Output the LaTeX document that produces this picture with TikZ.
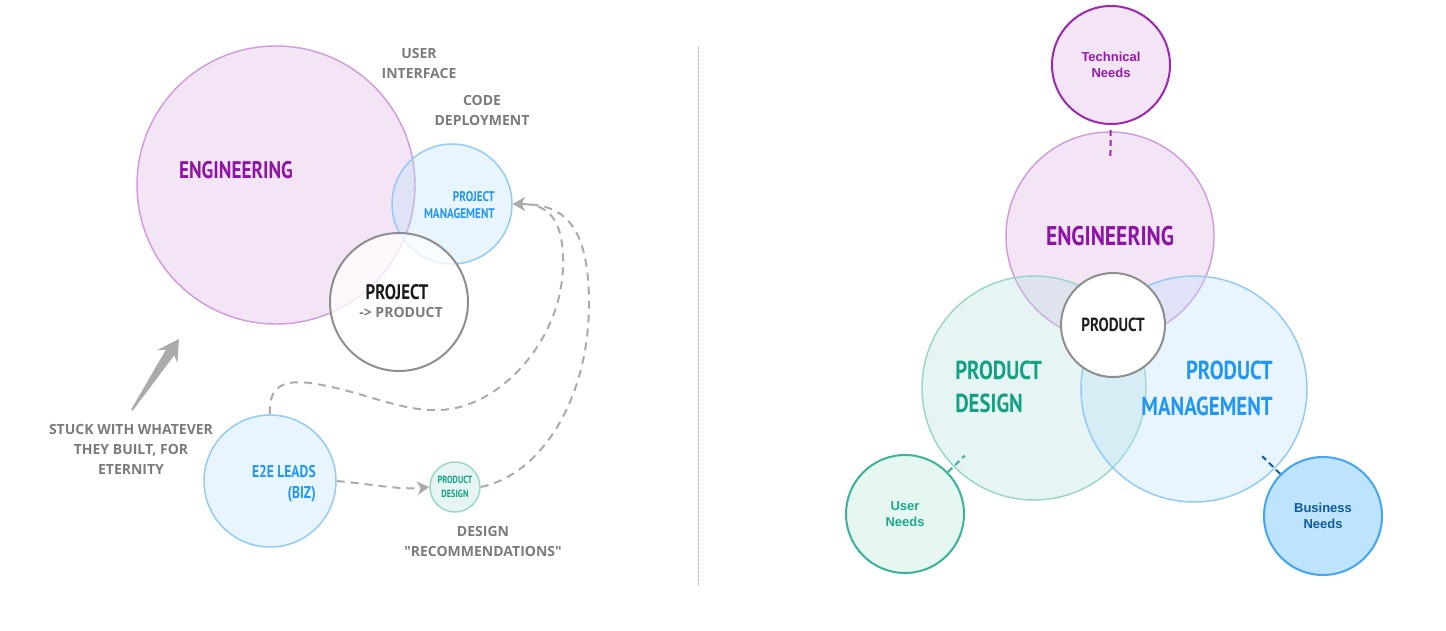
\documentclass[tikz,border=0pt]{standalone}
\usepackage{fontspec}
\usepackage{tikz}
\usetikzlibrary{arrows.meta}
\setmainfont{Open Sans}
\newfontfamily\narrowfont[FakeStretch=0.8]{PT Sans}
\newfontfamily\arialfont{Liberation Sans}
\definecolor{engCol}{HTML}{E1BEE7}
\definecolor{engEdge}{HTML}{D29CDC}
\definecolor{engText}{HTML}{8E14A6}
\definecolor{pmCol}{HTML}{BBDEFB}
\definecolor{pmEdge}{HTML}{90CAF9}
\definecolor{pmText}{HTML}{2196F3}
\definecolor{pdCol}{HTML}{B2DFDB}
\definecolor{pdEdge}{HTML}{98D6C6}
\definecolor{pdText}{HTML}{13A183}
\definecolor{techCol}{HTML}{F3E5F5}
\definecolor{techEdge}{HTML}{9C27B0}
\definecolor{techText}{HTML}{9419AC}
\definecolor{userCol}{HTML}{E6F6F1}
\definecolor{userEdge}{HTML}{3BB39A}
\definecolor{userText}{HTML}{20A98A}
\definecolor{bizCol}{HTML}{BEE3FC}
\definecolor{bizEdge}{HTML}{42A5F5}
\definecolor{bizText}{HTML}{0F5A9E}
\definecolor{noteGray}{HTML}{7B7B7B}
\definecolor{flowGray}{HTML}{ABABAB}
\definecolor{hubEdge}{HTML}{8E8E8E}
\tikzset{
  venn/.style n args={4}{circle, draw=#2, fill=#1, fill opacity=#4, text opacity=1,
        inner sep=0pt, minimum size=#3*1.5pt, line width=1.1pt, align=center},
  need/.style n args={3}{circle, draw=#2, fill=#1, text=#3, align=center,
        inner sep=0pt, minimum size=88.5pt, line width=1.5pt,
        font=\arialfont\bfseries\fontsize{9.75}{12}\selectfont},
  hub/.style={circle, draw=hubEdge, fill=white, inner sep=0pt, line width=1.5pt, align=center},
  note/.style={font=\bfseries\fontsize{10.5}{15}\selectfont, text=noteGray, align=center, inner sep=0pt},
  tag/.style n args={3}{text=#1, font=\narrowfont\bfseries\fontsize{#2}{#3}\selectfont, inner sep=0pt},
  flowd/.style={-{Stealth[length=9pt,width=10pt,inset=2.5pt]}, draw=flowGray, line width=1.5pt,
        dash pattern=on 6pt off 4.5pt},
  needlink/.style={line width=1.5pt, dash pattern=on 4.5pt off 3pt},
  sepline/.style={draw=flowGray!80, line width=0.75pt, dash pattern=on 2pt off 1pt},
}
\begin{document}
\begin{tikzpicture}[x=0.75pt,y=-0.75pt]
  \useasboundingbox (0,0) rectangle (1446,631);
  % --- left: project view ---
  \node[venn={engCol}{engEdge}{139}{0.4}] (engL) at (276,185) {};
  \node[venn={pmCol}{pmEdge}{60}{0.34}] (pmL) at (452,204) {};
  \node[hub, fill opacity=0.75, minimum size=103.5pt] (prj) at (399,302) {};
  \node[venn={pmCol}{pmEdge}{66}{0.34}] (e2e) at (270,481) {};
  \node[venn={pdCol}{pdEdge}{25}{0.33}, text=pdText,
        font=\narrowfont\bfseries\fontsize{7.8}{10.5}\selectfont] (pdL) at (455,487) {PRODUCT\\DESIGN};
  \node[tag={engText}{18}{22}] (engLt) at (236,170) {ENGINEERING};
  \node[tag={pmText}{10.5}{12.75}, align=right, anchor=east] (pmLt) at (495,205.5) {PROJECT\\MANAGEMENT};
  \node[tag={black!90}{15.75}{18}] (prjT) at (397,292.5) {PROJECT};
  \node[note] (prjSub) at (401,312) {-> PRODUCT};
  \node[tag={pmText}{12.75}{15.75}, align=right, anchor=east] (e2eT) at (316,483.5) {E2E LEADS\\(BIZ)};
  \node[note] (uiT) at (419,63.5) {USER\\INTERFACE};
  \node[note] (cdT) at (482,110) {CODE\\DEPLOYMENT};
  \node[note] (recT) at (483,541) {DESIGN\\\textquotedbl RECOMMENDATIONS\textquotedbl};
  \node[note] (stuckT) at (131,449) {STUCK WITH WHATEVER\\THEY BUILT, FOR\\ETERNITY};
  % dashed hand-offs
  \draw[flowd] (e2e.north) .. controls (268,385) and (285,380) .. (310,383)
       .. controls (360,390) and (400,412) .. (440,410)
       .. controls (500,408) and (562,340) .. (563,265)
       .. controls (564,215) and (545,204) .. (pmL.east);
  \draw[flowd] (pdL.east) .. controls (540,475) and (590,400) .. (589,300)
       .. controls (588,220) and (560,204) .. (pmL.east);
  \draw[flowd] (e2e.east) .. controls (370,484) and (400,490) .. (pdL.west);
  % fat arrow towards engineering
  \begin{scope}[shift={(132,410)}, rotate=56.5]
    \fill[flowGray] (0,-1) -- (69,-5) -- (64,-12) -- (85,0) -- (64,12) -- (69,5) -- (0,1) -- cycle;
  \end{scope}
  % --- divider ---
  \coordinate (sepTop) at (698,47);
  \coordinate (sepBot) at (698,585);
  \draw[sepline] (sepTop) -- (sepBot);
  % --- right: product view ---
  \node[venn={engCol}{engEdge}{104}{0.4}, text=engText,
        font=\narrowfont\bfseries\fontsize{20.25}{24}\selectfont] (engR) at (1110,236) {ENGINEERING};
  \node[venn={pdCol}{pdEdge}{112}{0.33}] (pdR) at (1034,388) {};
  \node[venn={pmCol}{pmEdge}{113}{0.34}] (pmR) at (1194,389) {};
  \node[hub, minimum size=78pt, font=\narrowfont\bfseries\fontsize{14.25}{16}\selectfont,
        text=black!88] (prod) at (1113,325) {PRODUCT};
  \node[tag={pdText}{19.5}{24.75}, align=left, anchor=west] (pdRt) at (955,386.5) {PRODUCT\\DESIGN};
  \node[tag={pmText}{19.5}{27}, align=right, anchor=east] (pmRt) at (1273,388.5) {PRODUCT\\MANAGEMENT};
  \node[need={techCol}{techEdge}{techText}] (tech) at (1111,65) {Technical\\Needs};
  \node[need={userCol}{userEdge}{userText}] (user) at (905,514) {User\\Needs};
  \node[need={bizCol}{bizEdge}{bizText}] (biz) at (1323,516) {Business\\Needs};
  \draw[needlink, techEdge, shorten <=3.75pt, shorten >=-18.75pt] (tech) -- (engR);
  \draw[needlink, userEdge, shorten >=-12pt] (user) -- (pdR);
  \draw[needlink, bizText, shorten >=-13.5pt] (biz) -- (pmR);
\end{tikzpicture}
\end{document}
